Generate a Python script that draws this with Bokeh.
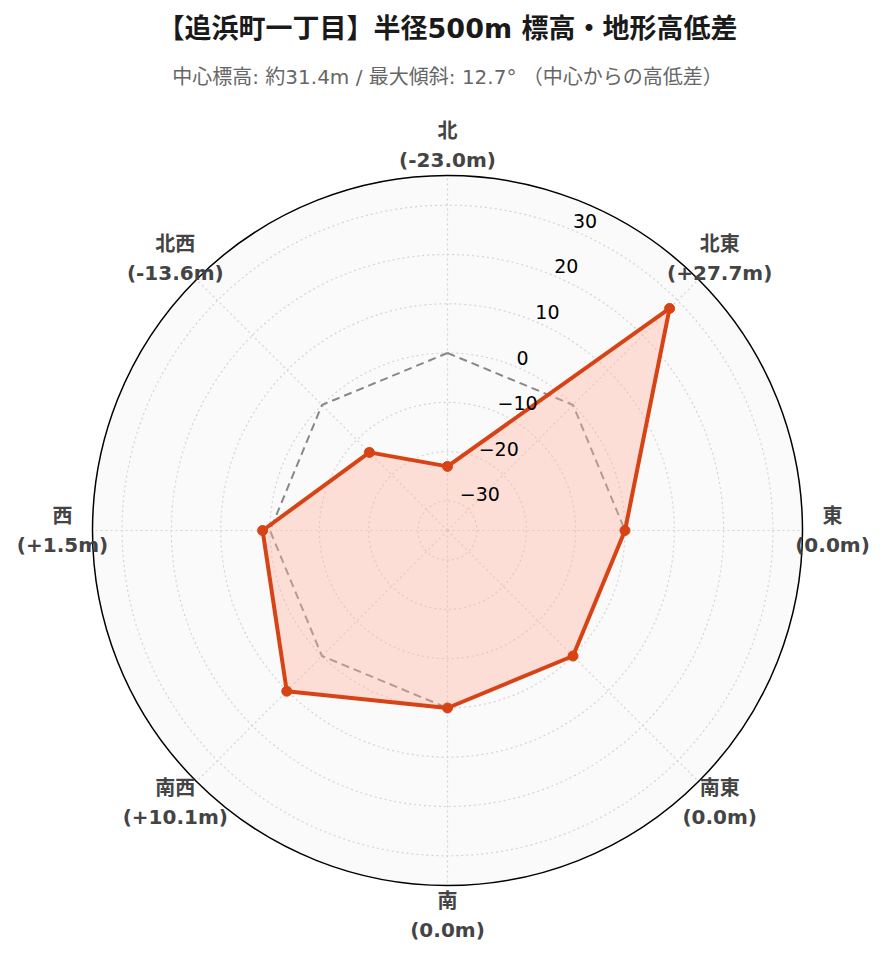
import numpy as np
from bokeh.plotting import figure
from bokeh.models import Range1d
from bokeh.core.properties import value
from bokeh.embed import file_html
from bokeh.resources import INLINE

# ---- data ----
directions = ["北", "北東", "東", "南東", "南", "南西", "西", "北西"]
elev_diff = [-23.0, 27.7, 0.0, 0.0, 0.0, 10.1, 1.5, -13.6]
zero_ref = [0.0, 0.0, 0.0, 0.0, 0.0, 0.0, 0.0, 0.0]
radial_ticks = [-30, -20, -10, 0, 10, 20, 30]
radial_range = [-36.0, 36.0]
title_text = "【追浜町一丁目】半径500m 標高・地形高低差"
subtitle_text = "中心標高: 約31.4m / 最大傾斜: 12.7° （中心からの高低差）"

# ---- layout (pixels) ----
W, H = 876, 954
CX, CY = 447, 530
RPX = 355.0
FONT = "DejaVu Sans, Noto Sans CJK JP"

rmin, rmax = radial_range


def rnorm(v):
    return (np.asarray(v, dtype=float) - rmin) / (rmax - rmin)


angles = np.deg2rad(90 - 45 * np.arange(len(directions)))


def to_xy(vals):
    r = rnorm(vals)
    return r * np.cos(angles), r * np.sin(angles)


def fmt(v):
    if v > 0:
        return f"(+{v:.1f}m)"
    if v == 0:
        return "(0.0m)"
    return f"({v:.1f}m)"


def tick_fmt(t):
    return ("\u2212" + str(abs(t))) if t < 0 else str(t)


p = figure(width=W, height=H, output_backend="svg", toolbar_location=None,
           x_range=Range1d(-CX / RPX, (W - CX) / RPX),
           y_range=Range1d(-(H - CY) / RPX, CY / RPX),
           x_axis_location=None, y_axis_location=None,
           min_border=0, min_border_left=0, min_border_right=0,
           min_border_top=0, min_border_bottom=0)
p.grid.visible = False
p.outline_line_color = None
p.background_fill_color = "white"
p.border_fill_color = "white"

# polar background
p.circle(x=[0], y=[0], radius=1.0, fill_color="#fafafa", line_color=None)

# grid circles
n = len(radial_ticks)
p.circle(x=[0] * n, y=[0] * n, radius=list(rnorm(radial_ticks)),
         fill_color=None, line_color="#d4d4d4", line_width=1.2, line_dash="2 3")

# spokes
p.segment(x0=[0] * 8, y0=[0] * 8, x1=list(np.cos(angles)), y1=list(np.sin(angles)),
          line_color="#d4d4d4", line_width=1.2, line_dash="2 3")

# zero reference
zx, zy = to_xy(zero_ref)
p.line(x=list(zx) + [zx[0]], y=list(zy) + [zy[0]], line_color="#888888",
       line_width=2, line_dash="8 5")

# data polygon
dx, dy = to_xy(elev_diff)
p.patch(x=list(dx), y=list(dy), fill_color="#ffb4a0", fill_alpha=0.4, line_color=None)
p.line(x=list(dx) + [dx[0]], y=list(dy) + [dy[0]], line_color="#d84315",
       line_width=4, line_join="round")
p.scatter(x=list(dx), y=list(dy), size=10, fill_color="#d84315", line_color="#d84315")

# outer circle
p.circle(x=[0], y=[0], radius=1.0, fill_color=None, line_color="black", line_width=1.5)

# radial tick labels
ta = np.deg2rad(67.5)
tr = rnorm(radial_ticks)
p.text(x=list(tr * np.cos(ta)), y=list(tr * np.sin(ta)),
       text=[tick_fmt(t) for t in radial_ticks],
       text_font=value("DejaVu Sans"), text_font_size="19px", text_color="#000000",
       text_align="left", text_baseline="middle", x_offset=1, y_offset=-9)

# angular labels
rl = 385 / RPX
lx = list(rl * np.cos(angles))
ly = list(rl * np.sin(angles))
p.text(x=lx, y=ly, text=directions,
       text_font=value(FONT), text_font_size="20px",
       text_font_style="bold", text_color="#444444",
       text_align="center", text_baseline="middle", y_offset=-14.5)
p.text(x=lx, y=ly, text=[fmt(v) for v in elev_diff],
       text_font=value(FONT), text_font_size="20px",
       text_font_style="bold", text_color="#444444",
       text_align="center", text_baseline="middle", y_offset=14.5)

# titles
p.text(x=[0], y=[(CY - 28) / RPX], text=[title_text],
       text_font=value(FONT), text_font_size="27px",
       text_font_style="bold", text_color="#1a1a1a",
       text_align="center", text_baseline="middle")
p.text(x=[0], y=[(CY - 76) / RPX], text=[subtitle_text],
       text_font=value(FONT), text_font_size="20px",
       text_color="#666666", text_align="center", text_baseline="middle")

open("out.html", "w").write(file_html(p, INLINE))
